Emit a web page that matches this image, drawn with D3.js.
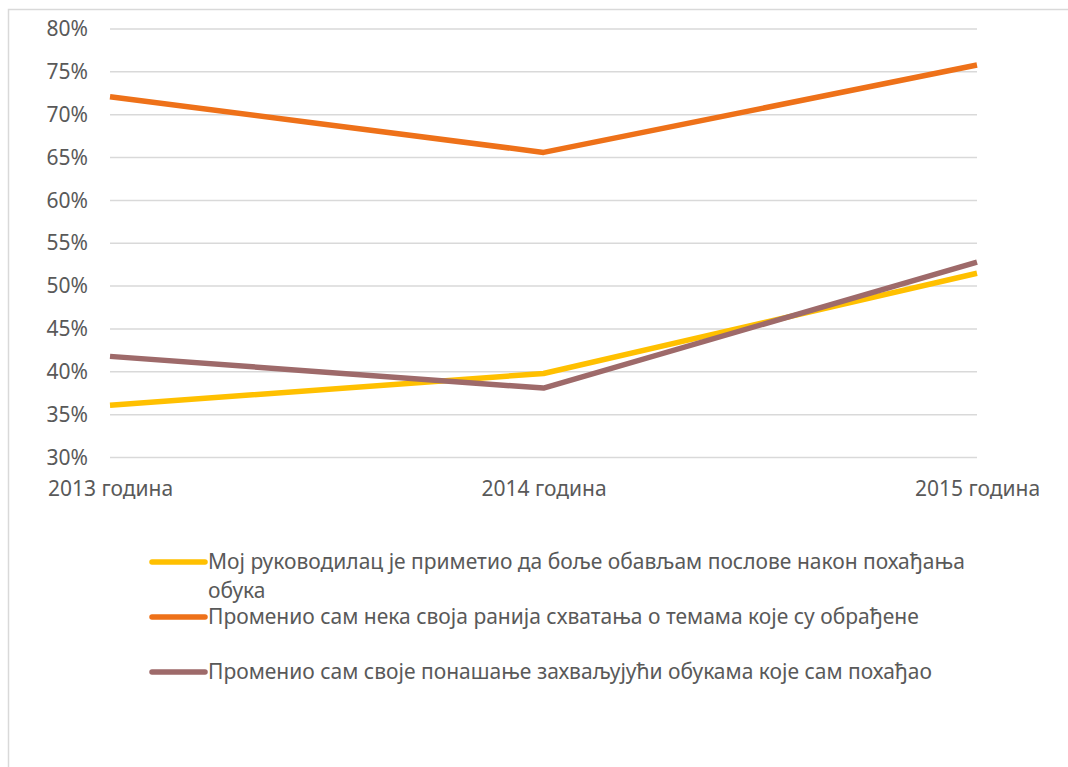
<!DOCTYPE html>
<html>
<head>
<meta charset="utf-8">
<script src="https://cdn.jsdelivr.net/npm/d3@7"></script>
<style>
body{margin:0;background:#fff;}
svg{display:block;font-family:"Noto Sans",sans-serif;}
</style>
</head>
<body>
<svg id="chart" width="1068" height="767"></svg>
<script>
var years = ["2013 година","2014 година","2015 година"];
var seriesNames = [
	["Мој руководилац је приметио да боље обављам послове након похађања","обука"],
	["Променио сам нека своја ранија схватања о темама које су обрађене"],
	["Променио сам своје понашање захваљујући обукама које сам похађао"]
];
var seriesColors = ["#FFC000","#EE7119","#9E6A6A"];
var manager = [36.1, 39.8, 51.5];
var views = [72.1, 65.6, 75.8];
var behaviour = [41.8, 38.1, 52.8];
var yTicks = [30,35,40,45,50,55,60,65,70,75,80];

var allSeries = [manager, views, behaviour];

const svg = d3.select("#chart");

// outer border of the chart box
svg.append("rect")
.attr("x",8.5).attr("y",9.5)
.attr("width",1070).attr("height",770)
.attr("fill","none")
.attr("stroke","#d9d9d9")
.attr("stroke-width",1.5);

var xScale = d3.scalePoint()
.domain(years)
.range([110,977]);

var yScale = d3.scaleLinear()
.domain([30,80])
.range([457.5,29]);

// gridlines
svg.append("g")
.selectAll("line")
.data(yTicks)
.enter()
.append("line")
.attr("x1",110).attr("x2",977)
.attr("y1",function(d){return yScale(d)})
.attr("y2",function(d){return yScale(d)})
.attr("stroke","#d9d9d9")
.attr("stroke-width",1.5);

var yAxis = d3.axisLeft(yScale)
.tickValues(yTicks)
.tickFormat(function(d){return d+"%"})
.tickSize(0)
.tickPadding(22);

svg.append("g")
.attr("transform","translate(110,0)")
.call(yAxis)
.call(function(g){g.select(".domain").remove()})
.selectAll("text")
.attr("fill","#595959")
.style("font-size","21px")
.style("font-family","'Noto Sans',sans-serif");

var xAxis = d3.axisBottom(xScale)
.tickSize(0)
.tickPadding(24);

svg.append("g")
.attr("transform","translate(0,457.5)")
.call(xAxis)
.call(function(g){g.select(".domain").remove()})
.selectAll("text")
.attr("fill","#595959")
.style("font-size","21px")
.style("font-family","'Noto Sans',sans-serif");

var line = d3.line()
.x(function(d,i){return xScale(years[i])})
.y(function(d){return yScale(d)});

svg.append("g")
.selectAll("path")
.data(allSeries)
.enter()
.append("path")
.attr("d",line)
.attr("fill","none")
.attr("stroke",function(d,i){return seriesColors[i]})
.attr("stroke-width",5.5)
.attr("stroke-linejoin","round");

// legend
var legendY = [562,617,672];
var legend = svg.append("g")
.selectAll("g")
.data(seriesNames)
.enter()
.append("g")
.attr("transform",function(d,i){return "translate(150,"+legendY[i]+")"});

legend.append("line")
.attr("x1",2).attr("x2",55)
.attr("y1",0).attr("y2",0)
.attr("stroke",function(d,i){return seriesColors[i]})
.attr("stroke-width",5.5)
.attr("stroke-linecap","round");

legend.append("text")
.attr("x",58)
.attr("y",7)
.attr("fill","#595959")
.style("font-size","21px")
.selectAll("tspan")
.data(function(d){return d})
.enter()
.append("tspan")
.attr("x",58)
.attr("dy",function(d,i){return i==0?0:29})
.text(function(d){return d});
</script>
</body>
</html>
